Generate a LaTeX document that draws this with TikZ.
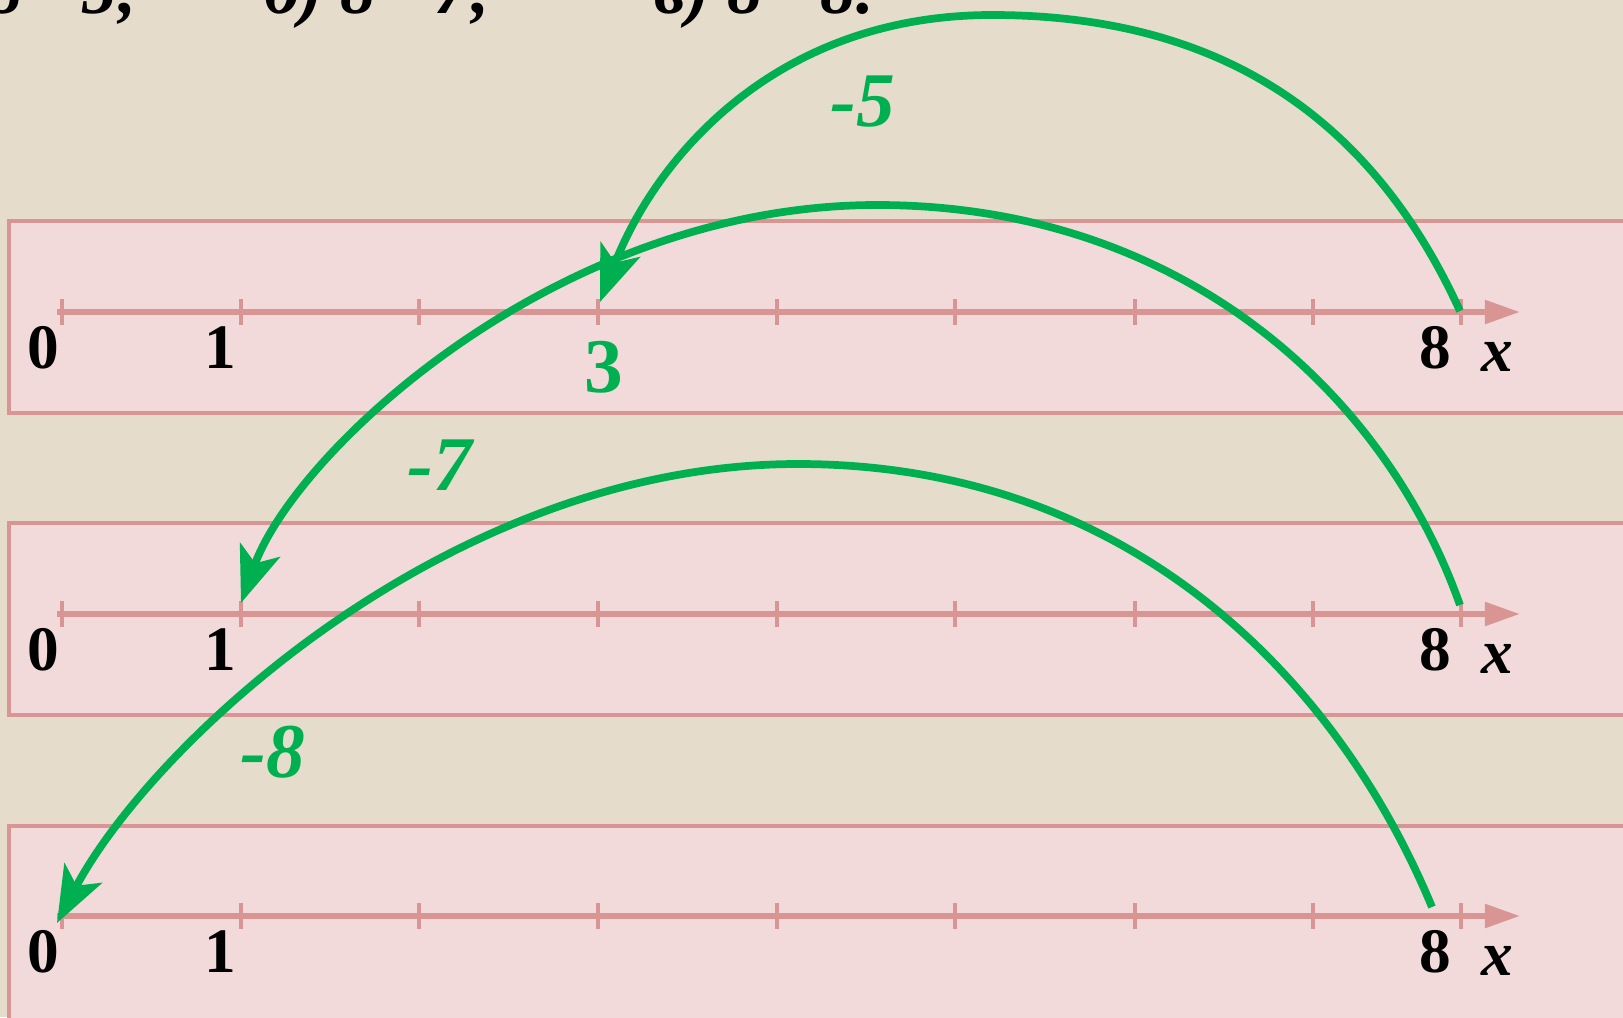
\documentclass[tikz,border=0pt]{standalone}
\usepackage{fontspec}
\setmainfont{Liberation Serif}
\usetikzlibrary{arrows.meta}
\definecolor{paper}{RGB}{229,220,204}
\definecolor{stripfill}{RGB}{242,218,218}
\definecolor{stripline}{RGB}{217,148,148}
\definecolor{jumpgreen}{RGB}{0,176,80}
\begin{document}
\begin{tikzpicture}[x=0.01cm,y=-0.01cm]
	% styles
	\tikzstyle{strip} += [draw=stripline,fill=stripfill,line width=1.4pt]
	\tikzstyle{numline} += [stripline,line width=1.7pt,-{Triangle[length=10pt,width=6.5pt]}]
	\tikzstyle{notch} += [stripline,line width=1.3pt]
	\tikzstyle{num} += [inner sep=0pt,font=\fontsize{18pt}{18pt}\selectfont\bfseries]
	\tikzstyle{var} += [inner sep=0pt,font=\fontsize{18pt}{18pt}\selectfont\bfseries\itshape]
	\tikzstyle{task} += [inner sep=0pt,font=\fontsize{20pt}{20pt}\selectfont\bfseries\itshape]
	\tikzstyle{jump} += [jumpgreen,line width=2.2pt,-{Stealth[length=16pt,width=12pt,inset=4pt]}]
	\tikzstyle{jumplabel} += [jumpgreen,inner sep=0pt,font=\fontsize{22pt}{22pt}\selectfont\bfseries\itshape]
	
	% bounding box
	\useasboundingbox (0,0) rectangle (1623,1017);
	\clip (0,0) rectangle (1623,1017);
	\fill[paper] (0,0) rectangle (1623,1017);
	
	% task line, cut off at the top
	\node[task,anchor=base east] (ta) at (141,13) {а) 8 - 5;};
	\node[task,anchor=base west] (tb) at (264,13) {б) 8 - 7;};
	\node[task,anchor=base west] (tc) at (654,13) {в) 8 - 8.};
	
	% strips
	\foreach \top/\bot in {221/413,523/715,826/1040}
	{
		\path[strip] (9,\top) rectangle (1640,\bot);
	}
	
	% number lines
	\foreach \y/\r in {312/1,614/2,916/3}
	{
		\draw[numline] (57,\y) -- (1520,\y);
		\foreach \x in {62,241,419,598,777,955,1135,1313,1461}
			\draw[notch] (\x,\y-13) -- (\x,\y+13);
		\node[num] (zero\r) at (43,\y+36) {0};
		\node[num] (one\r) at (220,\y+36) {1};
		\node[num] (eight\r) at (1435,\y+36) {8};
		\node[var] (x\r) at (1497,\y+45) {x};
	}
	
	% result
	\node[jumplabel,font=\fontsize{22pt}{22pt}\selectfont\bfseries] (three) at (604,367) {3};
	
	% jumps
	\coordinate (s1) at (1460,311);
	\coordinate (t1) at (600,302);
	\coordinate (s2) at (1460,605);
	\coordinate (t2) at (241,603);
	\coordinate (s3) at (1432,907);
	\coordinate (t3) at (57,923);
	\draw[jump] (s1) .. controls (1381,138) and (1242,15) .. (992,15)
		.. controls (772,15) and (654,162) .. (t1);
	\draw[jump] (s2) .. controls (1383,388) and (1177,205) .. (877,205)
		.. controls (557,205) and (295,452) .. (t2);
	\draw[jump] (s3) .. controls (1336,676) and (1128,464) .. (798,464)
		.. controls (448,464) and (150,746) .. (t3);
	\node[jumplabel] (minusfive) at (863,102) {-5};
	\node[jumplabel] (minusseven) at (440,465) {-7};
	\node[jumplabel] (minuseight) at (273,752) {-8};
\end{tikzpicture}
\end{document}
